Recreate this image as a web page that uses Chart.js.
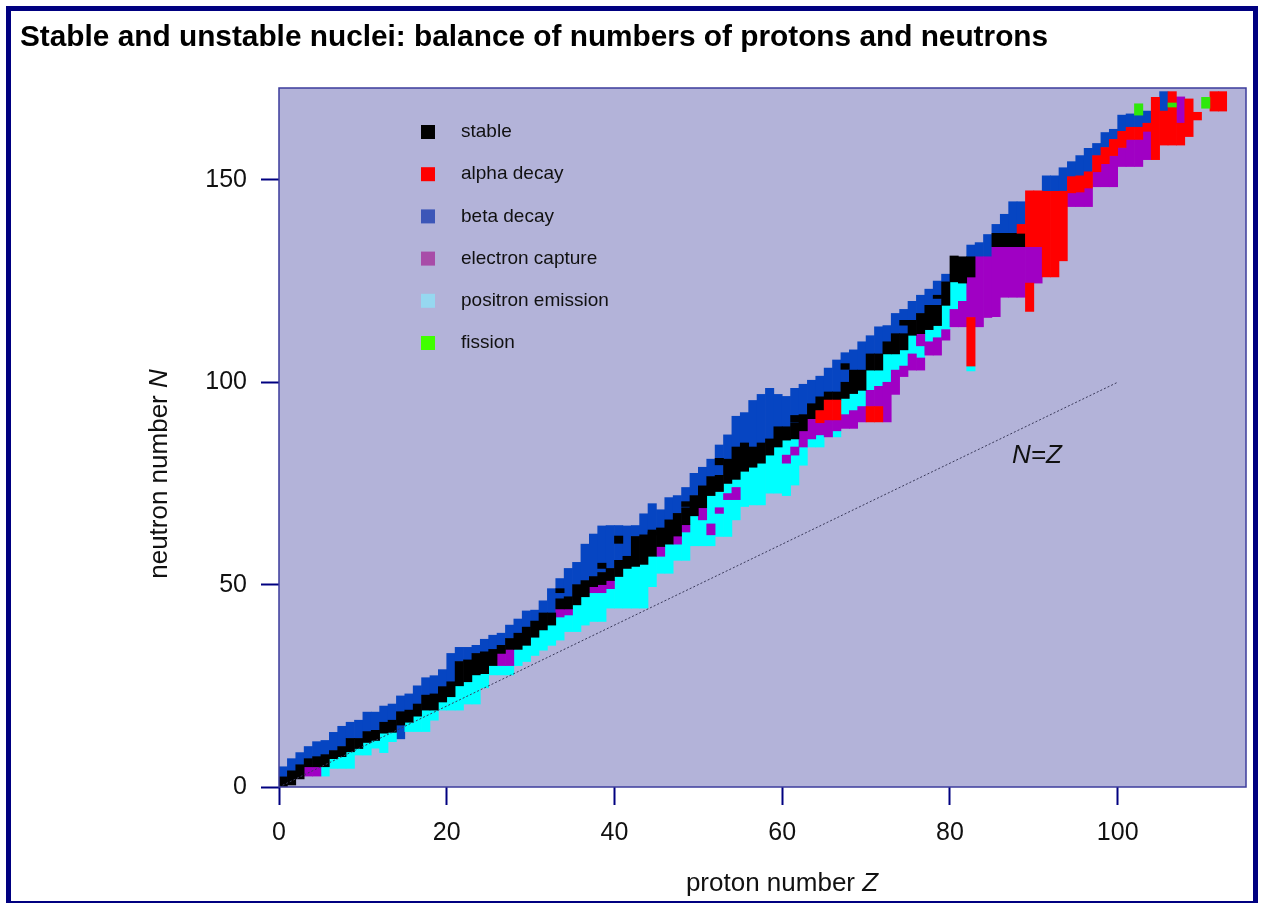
<!DOCTYPE html>
<html>
<head>
<meta charset="utf-8">
<script src="https://cdn.jsdelivr.net/npm/chart.js@4.4.0/dist/chart.umd.min.js"></script>
<style>
html, body { margin: 0; padding: 0; background: #fff; overflow: hidden; }
#wrap { position: relative; width: 1262px; height: 903px; }
#frame { position: absolute; left: 6px; top: 6px; width: 1252px; height: 900px; box-sizing: border-box; border: 5px solid #000080; pointer-events: none; }
canvas { position: absolute; left: 0; top: 0; }
</style>
</head>
<body>
<div id="wrap">
  <canvas id="chart" width="1262" height="903"></canvas>
  <div id="frame"></div>
</div>
<script>
// cells: [Z, N low, N high]
const betaCells = [
  [0,2.5,5],[1,4,7],[2,5.5,8.5],[3,7,10],[4,7.5,11.2],[5,8,11.5],[6,9,13.5],[7,10,15],[8,12,16],[9,12,16.5],
  [10,13.7,18.5],[11,14,18.5],[12,16,20],[13,16.5,20.5],[14,11.9,15.3],[14,18.6,22.5],[15,19,23],[16,20.5,25],
  [17,22.7,27],[18,23,27.5],[19,24.8,29],[20,26,33],[21,31,34.5],[22,31.4,34.5],[23,33,35],[24,33.4,36.5],
  [25,34,37.5],[26,35,38],[27,36.7,40],[28,38,41.5],[29,39.5,43.5],[30,41,43.7],[31,43,46],[32,43,49],
  [33,46.5,51.5],[34,47,54],[35,50,55.5],[36,51,60],[37,52,62.5],[38,53,64.5],[39,54,64.6],[40,56,64.6],
  [41,57,64.5],[42,61.9,64.6],[43,62.3,67.5],[44,63,70],[45,64,68.5],[46,66,71.5],[47,67.6,72],[48,69,74],
  [49,72,77.5],[50,74,79],[51,76.7,81],[52,77,84.5],[53,81,87],[54,84,91.6],[55,85,92.5],[56,84,95.5],
  [57,85,97],[58,86,98.5],[59,89,97],[60,89,96.5],[61,90,98.5],[62,92,99.5],[63,94.7,100.5],[64,96.4,101.5],
  [65,97.6,103.5],[66,97.6,105.5],[67,100,107.3],[68,103,108],[69,103,110],[70,107,111.5],[71,107,113.7],
  [72,110,114],[73,112,117],[74,112,118],[75,115.3,120],[76,117,121.5],[77,119,123],[78,119,125],
  [79,124.8,126.7],[82,131,133.9],[83,131,134.5],[84,131,136.5],[85,136.8,139],[86,136.8,141.5],
  [87,136.8,144.6],[88,139,144.6],[91,147.2,151],[92,147.2,151],[93,147.2,153],[94,150.8,154.5],
  [95,151,156],[96,152,157.8],[97,156,159],[98,158,161.7],[99,160,162.5],[100,162,166],[101,163,166.3],
  [102,163,166],[103,164,167],[105,167,171.8]
];

const stableCells = [
  [0,0,2.5],[1,0.5,4],[2,2,5.5],[3,5,7],[4,5,7.5],[5,5,8],[6,7,9],[7,7.5,10],[8,8.7,12],[9,9.5,12],
  [10,11,13.7],[11,11.5,14],[12,13.3,16],[13,13.5,16.5],[14,15.3,18.6],[15,16,19],[16,17.5,20.5],
  [17,19,22.7],[18,19,23],[19,21,24.8],[20,22.3,26],[21,25,31],[22,26,31.4],[23,27.7,33],[24,28,33.4],
  [25,30,34],[26,33,35],[27,34,36.7],[28,34,38],[29,35,39.5],[30,37,41],[31,38.8,43],[32,40,43],
  [33,44,46.5],[34,44,47],[35,45,50],[36,47,51],[37,49.5,52],[38,50,53],[39,51,54],[40,52,56],[41,54,57],
  [42,54.5,61.9],[43,55,62.3],[44,57,63],[45,59.4,64],[46,60,66],[47,62,67.6],[48,64.8,69],[49,67,72],
  [50,69,74],[51,72,76.7],[52,73,77],[53,75,81],[54,76,84],[55,78,85],[56,79,84],[57,80,85],[58,82,86],
  [59,84,89],[60,85.7,89],[61,86,90],[62,88,92],[63,91,94.7],[64,93,96.4],[65,95.6,97.6],[66,95.6,97.6],
  [67,96,100],[68,97.2,103],[69,98,103],[70,103,107],[71,103,107],[72,107,110],[73,107,112],[74,108,112],
  [75,111.6,115.3],[76,112,117],[77,113,119],[78,114,119],[79,119,124.8],[80,124.8,131.2],[81,124.5,131],
  [82,126,131],[85,133.5,136.8],[86,133.5,136.8],[87,133.5,136.8],[88,133.5,136.8],
  [33,48,49],[38,54,55.3],[40,60.2,62],[44,62.3,63.5],[48,69.3,70.5],[50,73,74.4],[52,79.6,81.2],
  [61,90.2,91.8],[67,103.2,104.6],[74,114.1,115.3],[78,120.7,121.5]
];

const positronCells = [
  [5,2.7,5],[6,4.6,7],[7,4.6,7.5],[8,4.6,8.7],[9,7.9,9.5],[10,7.9,11],[11,9.6,11.5],[12,8.5,13.3],
  [13,11.2,13.5],[15,13.7,16],[16,13.7,17.5],[17,13.7,19],[18,16.5,19],[19,19,21],[20,19,22.3],[21,19,25],
  [22,20.5,26],[23,20.5,27.7],[24,24.5,28],[25,27.7,30],[26,27.7,30],[27,27.7,30],[28,30,34],[29,31,35],
  [30,32.5,37],[31,33.8,38.8],[32,35,40],[33,36.3,42],[34,38.4,42.5],[35,38.4,45],[36,40,47],[37,40.9,48],
  [38,40.9,48],[39,44.2,49],[40,44.2,52],[41,44.2,54],[42,44.2,54.5],[43,44.2,55],[44,49.5,57],[45,52.8,57],
  [46,52.8,60],[47,56,60],[48,56,63],[49,59.6,67],[50,59.6,66],[51,59.6,62.3],[51,65,72],[52,61.9,67.6],
  [52,69,73],[53,61.9,71],[53,72.5,75],[54,66,71],[54,74,76],[55,69.3,78],[56,69.7,79],[57,69.7,80],
  [58,72.6,82],[59,72.6,84],[60,72,80],[60,82,85.7],[61,74.6,82],[61,84,86],[62,79.5,84],[63,84,86],
  [64,84,87],[66,86.5,88],[67,92,96],[68,93,97.2],[69,94,98],[70,98,103],[71,99,103],[72,100,107],
  [73,103,107],[74,104,108],[75,107,111.6],[76,106,109],[77,110,113],[78,111,114],[79,113,119],
  [80,118,124.8],[81,120,124.5],[82,102.8,104]
];

const captureCells = [
  [3,2.7,5],[4,2.7,5],[26,30,33],[27,30,34],[33,42,44],[34,42.5,44],[37,48,49.5],[38,48,50],[39,49,51],
  [45,57,59.4],[47,60,62],[48,63,64.8],[50,66,69],[51,62.3,65],[52,67.6,69],[53,71,72.5],[54,71,74],
  [60,80,82],[61,82,84],[62,84,88],[63,86,91],[64,87,90],[65,86.5,90.7],[66,88,90.7],[67,88.6,92],
  [68,88.6,93],[69,90.2,94],[70,94,98],[71,94,99],[72,90.2,100],[73,97,103],[74,101.4,104],[75,103,107],
  [76,103,106],[76,109,112],[77,106.7,110],[78,106.7,111],[79,110.4,113],[80,113.7,118],[81,113.7,120],
  [82,116,126],[83,113.7,131],[84,116,131],[85,116.2,133.5],[86,121,133.5],[87,121,133.5],[88,121,133.5],
  [89,124.5,133.5],[90,124.5,133.5],[94,143.4,146.8],[95,143.4,147],[96,143.4,148],[97,148.3,152],
  [98,148.3,154],[99,148.3,156],[100,153.3,158],[101,153.3,160],[102,153.3,160],[103,155,162],[107,164,170.5]
];

const alphaCells = [
  [64,90,93],[65,90.7,95.6],[66,90.7,95.6],[70,90.2,94],[71,90.2,94],[82,104,116],[88,136.8,139],
  [89,133.5,147.3],[89,117.5,124.5],[90,133.5,147.3],[91,126,147.2],[92,126,147.2],[93,130,147.2],
  [94,146.8,150.8],[95,147,151],[96,148,152],[97,152,156],[98,154,158],[99,156,160],[100,158,162],
  [101,160,163],[102,160,163],[103,162,164],[104,155,170.4],[105,158.6,167],[106,158.6,171.8],
  [107,158.6,164],[108,160.7,170],[109,164.8,166.7],[111,167,171.8],[112,167,171.8]
];

const fissionCells = [[102,166,168.8],[106,168,169],[110,167.7,170.4]];

const diagonal = [[0,0],[100,100]];
const xTicksStep = 20;
const yTicksStep = 50;
const legendLabels = ["stable", "alpha decay", "beta decay", "electron capture", "positron emission", "fission"];

const FONT = "'Liberation Sans', Arial, sans-serif";

const toBars = cells => cells.map(c => ({ x: c[0] + 0.5, y: [c[1], c[2]] }));

function barSet(label, cells, color, legendColor, order) {
  return {
    type: "bar",
    label: label,
    data: toBars(cells),
    backgroundColor: color,
    legendColor: legendColor,
    borderWidth: 0,
    grouped: false,
    barPercentage: 1,
    categoryPercentage: 1,
    order: order
  };
}

const datasets = [
  {
    type: "line",
    label: "N=Z",
    data: diagonal.map(p => ({ x: p[0], y: p[1] })),
    borderColor: "#3a3a5a",
    borderWidth: 1,
    borderDash: [2, 2],
    pointRadius: 0,
    fill: false,
    order: -1
  },
  barSet("fission", fissionCells, "#2ee80a", "#40ff00", 0),
  barSet("alpha decay", alphaCells, "#ff0000", "#ff0000", 1),
  barSet("stable", stableCells, "#000000", "#000000", 2),
  barSet("electron capture", captureCells, "#a000c4", "#a84ca8", 3),
  barSet("positron emission", positronCells, "#00ffff", "#96d8f0", 4),
  barSet("beta decay", betaCells, "#0645c2", "#3c56b8", 5)
];

function drawMixed(ctx, parts, x, y, size) {
  let total = 0;
  parts.forEach(p => {
    ctx.font = (p.italic ? "italic " : "") + size + "px " + FONT;
    p.w = ctx.measureText(p.text).width;
    total += p.w;
  });
  let cx = x - total / 2;
  parts.forEach(p => {
    ctx.font = (p.italic ? "italic " : "") + size + "px " + FONT;
    ctx.fillText(p.text, cx, y);
    cx += p.w;
  });
}

const decor = {
  id: "decor",
  beforeDatasetsDraw(chart) {
    const a = chart.chartArea, ctx = chart.ctx;
    ctx.save();
    ctx.fillStyle = "#b3b3d9";
    ctx.fillRect(a.left, a.top, a.right - a.left, a.bottom - a.top);
    ctx.restore();
  },
  afterDatasetsDraw(chart) {
    const a = chart.chartArea, ctx = chart.ctx;
    const xs = chart.scales.x, ys = chart.scales.y;
    ctx.save();
    ctx.strokeStyle = "#3c3c9c";
    ctx.lineWidth = 1.5;
    ctx.strokeRect(a.left, a.top, a.right - a.left, a.bottom - a.top);

    // legend inside the plot
    ctx.textBaseline = "middle";
    ctx.textAlign = "left";
    ctx.font = "19px " + FONT;
    legendLabels.forEach((lab, i) => {
      const ds = chart.data.datasets.find(d => d.label === lab);
      const cy = 132 + i * 42.2;
      ctx.fillStyle = ds.legendColor;
      ctx.fillRect(421, cy - 7, 14, 14);
      ctx.fillStyle = "#111";
      ctx.fillText(lab, 461, cy);
    });

    // N=Z label
    ctx.fillStyle = "#111";
    ctx.textBaseline = "alphabetic";
    ctx.font = "italic 26px " + FONT;
    ctx.fillText("N=Z", xs.getPixelForValue(87.4), ys.getPixelForValue(80.1));
    ctx.restore();
  },
  afterDraw(chart) {
    const ctx = chart.ctx;
    ctx.save();
    ctx.fillStyle = "#000";
    ctx.textAlign = "left";
    ctx.textBaseline = "alphabetic";
    ctx.font = "bold 29.8px " + FONT;
    ctx.fillText("Stable and unstable nuclei: balance of numbers of protons and neutrons", 20, 46);

    ctx.fillStyle = "#111";
    drawMixed(ctx, [{ text: "proton number " }, { text: "Z", italic: true }], 782, 891, 26);
    ctx.translate(167, 474);
    ctx.rotate(-Math.PI / 2);
    drawMixed(ctx, [{ text: "neutron number " }, { text: "N", italic: true }], 0, 0, 26);
    ctx.restore();
  }
};

const tickFont = { family: FONT, size: 25 };

new Chart(document.getElementById("chart"), {
  data: { datasets: datasets },
  plugins: [decor],
  options: {
    responsive: false,
    devicePixelRatio: 1,
    animation: false,
    layout: { padding: { top: 88, right: 16, left: 0, bottom: 0 } },
    plugins: {
      legend: { display: false },
      tooltip: { enabled: false },
      title: { display: false }
    },
    scales: {
      x: {
        type: "linear",
        min: 0,
        max: 115.3,
        offset: false,
        grid: { offset: false, drawOnChartArea: false, tickLength: 18, tickWidth: 2, tickColor: "#000080" },
        border: { display: false },
        ticks: { stepSize: xTicksStep, includeBounds: false, padding: 13, color: "#111", font: tickFont, maxRotation: 0, autoSkip: false },
        afterFit: s => { s.height = 116; }
      },
      y: {
        type: "linear",
        min: 0,
        max: 172.7,
        grid: { drawOnChartArea: false, tickLength: 18, tickWidth: 2, tickColor: "#000080" },
        border: { display: false },
        ticks: { stepSize: yTicksStep, includeBounds: false, padding: 14, color: "#111", font: tickFont },
        afterFit: s => { s.width = 279; }
      }
    }
  }
});
</script>
</body>
</html>
